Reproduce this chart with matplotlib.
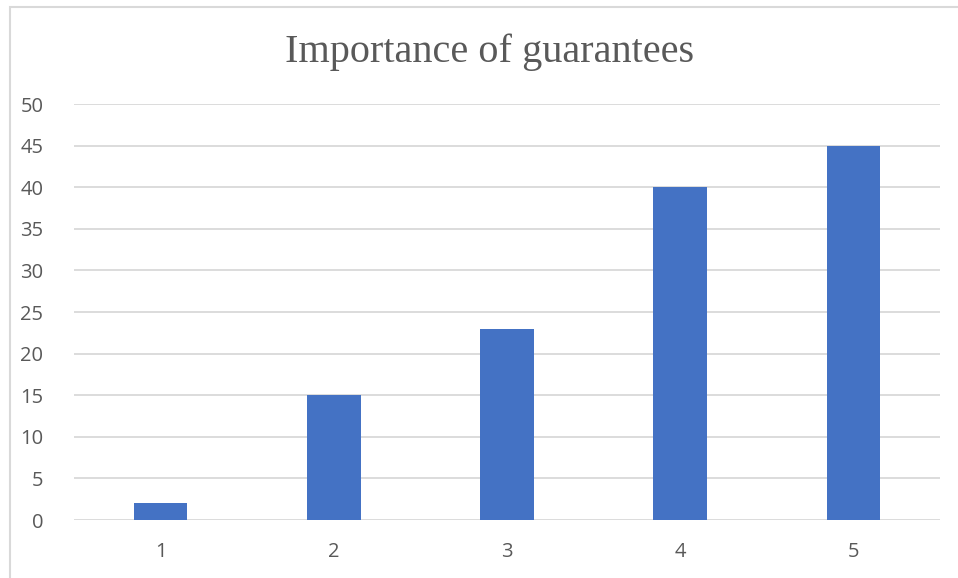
import matplotlib
matplotlib.use('Agg')
import matplotlib.pyplot as plt
from matplotlib.patches import Rectangle

categories = ['1', '2', '3', '4', '5']
values = [2, 15, 23, 40, 45]
yticks = [0, 5, 10, 15, 20, 25, 30, 35, 40, 45, 50]

W, H = 958, 578
fig = plt.figure(figsize=(W / 100, H / 100), dpi=100)

# outer chart frame (only left and top visible in the crop)
fig.patches.append(Rectangle((10 / W, -0.1), 2.0, 1 - 7 / H + 0.1, transform=fig.transFigure,
                             fill=False, edgecolor='#d9d9d9', linewidth=1.5))

ax = fig.add_axes([74 / W, 1 - 520 / H, (940 - 74) / W, (520 - 104) / H])
x = range(len(categories))
ax.bar(x, values, width=0.31, color='#4472c4', zorder=3)
ax.set_xlim(-0.5, len(categories) - 0.5)
ax.set_ylim(0, 50)
ax.set_yticks(yticks)
ax.set_xticks(list(x))
ax.set_xticklabels(categories)
ax.yaxis.grid(True, color='#d9d9d9', linewidth=1.3)
ax.set_axisbelow(True)
for s in ax.spines.values():
    s.set_visible(False)
ax.tick_params(length=0, labelsize=14.5, labelcolor='#595959', pad=0)
ax.tick_params(axis='y', pad=22)
ax.tick_params(axis='x', pad=16)
for lab in ax.get_xticklabels() + ax.get_yticklabels():
    lab.set_family('Open Sans')

fig.text(490 / W, 1 - 52 / H, 'Importance of guarantees', ha='center', va='center',
         fontsize=29, color='#595959', family='Liberation Serif')

fig.savefig('out.png', dpi=100)
